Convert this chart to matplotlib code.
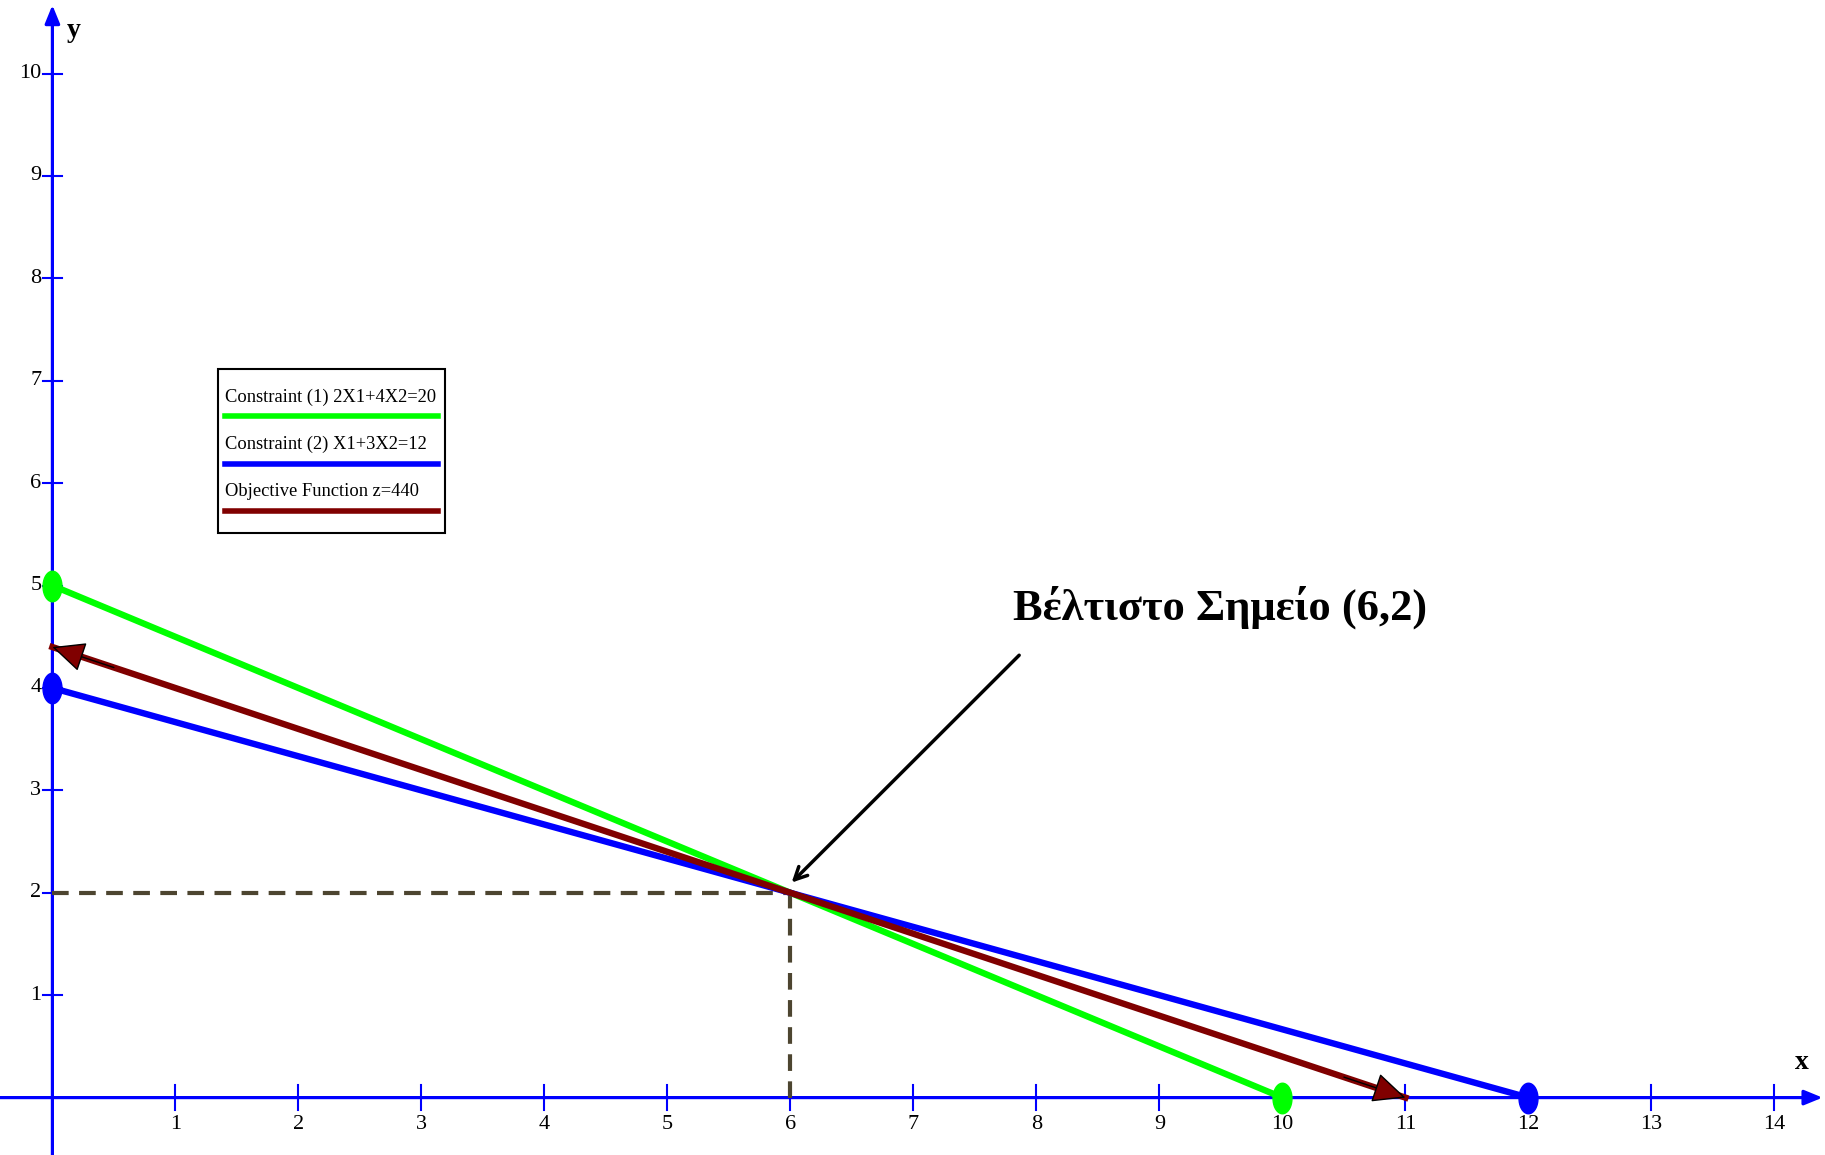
import numpy as np
import matplotlib
matplotlib.use("Agg")
import matplotlib.pyplot as plt
from matplotlib.lines import Line2D
from matplotlib.patches import Rectangle
from matplotlib.path import Path

# ограничения и целевая функция (точки пересечения с осями)
c1_x = [0, 10]
c1_y = [5, 0]
c2_x = [0, 12]
c2_y = [4, 0]
obj_x = [0, 11]
obj_y = [4.4, 0]
opt = (6, 2)
xticks = list(range(1, 15))
yticks = list(range(1, 11))
legend_labels = ["Constraint (1) 2X1+4X2=20",
                 "Constraint (2) X1+3X2=12",
                 "Objective Function z=440"]
note = "Βέλτιστο Σημείο (6,2)"

GREEN, BLUE, RED = "#00ff00", "#0000ff", "#800000"
DASH = "#4d4530"
serif = ["Liberation Serif", "DejaVu Serif"]

W, H = 1825, 1155
fig = plt.figure(figsize=(W / 100, H / 100), dpi=100)
ax = fig.add_axes([0, 0, 1, 1])
x0px, y0px, ux, uy = 52.4, 1097.6, 123.0, 102.4
ax.set_xlim(-x0px / ux, (W - x0px) / ux)
ax.set_ylim(-(H - y0px) / uy, y0px / uy)
ax.axis("off")

# оси
xmin, xmax = ax.get_xlim()
ymin, ymax = ax.get_ylim()
ax.annotate("", xy=(xmax - 0.02, 0), xytext=(xmin, 0),
            arrowprops=dict(arrowstyle="-|>,head_length=1.1,head_width=0.45",
                            color=BLUE, lw=2.3, shrinkA=0, shrinkB=0), zorder=2)
ax.annotate("", xy=(0, ymax - 0.05), xytext=(0, ymin),
            arrowprops=dict(arrowstyle="-|>,head_length=1.1,head_width=0.45",
                            color=BLUE, lw=2.3, shrinkA=0, shrinkB=0), zorder=2)
for t in xticks:
    ax.plot([t, t], [-0.12, 0.12], color=BLUE, lw=1.5, zorder=2)
    ax.text(t, -0.17, str(t), ha="center", va="top", fontsize=16,
            family=serif, color="black")
for t in yticks:
    ax.plot([-0.075, 0.075], [t, t], color=BLUE, lw=1.5, zorder=2)
    ax.text(-0.09, t, str(t), ha="right", va="center", fontsize=16,
            family=serif, color="black")
ax.text(14.22, 0.22, "x", ha="center", va="bottom", fontsize=20,
        family=serif, weight="bold")
ax.text(0.12, 10.3, "y", ha="left", va="bottom", fontsize=20,
        family=serif, weight="bold")

# пунктир к оптимальной точке
ax.plot([0, opt[0]], [opt[1], opt[1]], color=DASH, lw=3, ls=(0, (4, 2.5)), zorder=3)
ax.plot([opt[0], opt[0]], [0, opt[1]], color=DASH, lw=3, ls=(0, (4, 2.5)), zorder=3)

# овальный маркер
th = np.linspace(0, 2 * np.pi, 40)
oval = Path(np.column_stack([0.62 * np.cos(th), np.sin(th)]))

ax.plot(c1_x, c1_y, color=GREEN, lw=4.6, zorder=4)
ax.plot(c2_x, c2_y, color=BLUE, lw=4.6, zorder=4)
ax.plot(obj_x, obj_y, color=RED, lw=4.6, zorder=5)
ax.annotate("", xy=(obj_x[0], obj_y[0]), xytext=(obj_x[0] + 0.5, obj_y[0] - 0.2),
            arrowprops=dict(arrowstyle="-|>,head_length=1.3,head_width=0.6",
                            mutation_scale=16, fc=RED, ec="black", lw=1,
                            shrinkA=0, shrinkB=0), zorder=6)
ax.annotate("", xy=(obj_x[1], obj_y[1]), xytext=(obj_x[1] - 0.5, obj_y[1] + 0.2),
            arrowprops=dict(arrowstyle="-|>,head_length=1.3,head_width=0.6",
                            mutation_scale=16, fc=RED, ec="black", lw=1,
                            shrinkA=0, shrinkB=0), zorder=6)
ax.plot(c1_x, c1_y, ls="none", marker=oval, ms=22, color=GREEN, zorder=6)
ax.plot(c2_x, c2_y, ls="none", marker=oval, ms=22, color=BLUE, zorder=6)

# подпись оптимума
ax.annotate("", xy=(opt[0] + 0.01, opt[1] + 0.1), xytext=(7.86, 4.32),
            arrowprops=dict(arrowstyle="->,head_length=0.9,head_width=0.45",
                            color="black", lw=2.5, shrinkA=0, shrinkB=0), zorder=7)
ax.text((1013 - x0px) / ux, (y0px - 607) / uy, note, ha="left", va="center",
        fontsize=32, family=serif, weight="bold")

# легенда
def fx(px):
    return px / W

def fy(py):
    return 1 - py / H

fig.add_artist(Rectangle((fx(218), fy(533)), fx(445) - fx(218), fy(369) - fy(533),
                         transform=fig.transFigure, fill=False, ec="black", lw=1.5))
for i, (lab, col) in enumerate(zip(legend_labels, [GREEN, BLUE, RED])):
    ty = 397 + 47.5 * i
    fig.text(fx(225), fy(ty), lab, ha="left", va="center", fontsize=13.3, family=serif)
    fig.add_artist(Line2D([fx(225), fx(438)], [fy(ty + 19), fy(ty + 19)],
                          transform=fig.transFigure, color=col, lw=4))

fig.savefig("out.png", dpi=100)
